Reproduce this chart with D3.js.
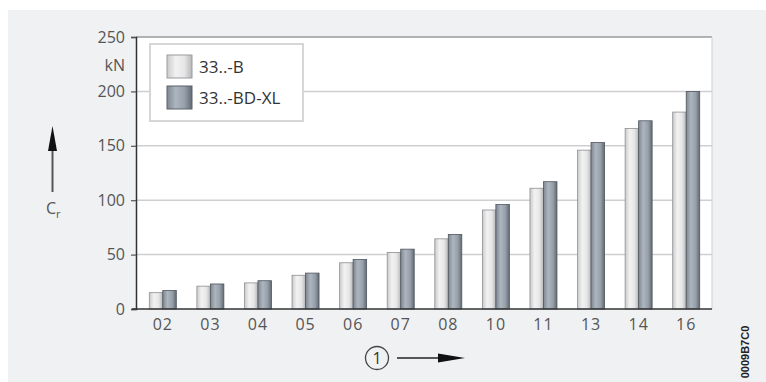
<!DOCTYPE html>
<html>
<head>
<meta charset="utf-8">
<script src="https://cdn.jsdelivr.net/npm/d3@7"></script>
<style>
  html, body { margin: 0; padding: 0; background: #ffffff; }
  svg { display: block; }
</style>
</head>
<body>
<script>
const categories = ["02", "03", "04", "05", "06", "07", "08", "10", "11", "13", "14", "16"];
const seriesNames = ["33..-B", "33..-BD-XL"];
const valuesB    = [15, 21, 24, 31, 42.5, 52, 64.5, 91, 111, 146, 166, 181];
const valuesBDXL = [17, 23, 26, 33, 45.5, 55, 68.5, 96, 117, 153, 173, 200];
const yTicks = [0, 50, 100, 150, 200, 250];
const yUnit = "kN";
const codeLabel = "0009B7C0";

const W = 766, H = 382;
const svg = d3.select("body").append("svg").attr("width", W).attr("height", H);

const defs = svg.append("defs");
function grad(id, stops) {
  const g = defs.append("linearGradient").attr("id", id)
    .attr("x1", "0%").attr("x2", "100%").attr("y1", "0%").attr("y2", "0%");
  stops.forEach(s => g.append("stop").attr("offset", s[0]).attr("stop-color", s[1]));
}
grad("gLight", [["0%", "#c9cacc"], ["35%", "#f2f2f2"], ["70%", "#e6e6e7"], ["100%", "#b5b6b8"]]);
grad("gDark",  [["0%", "#7f8892"], ["35%", "#adb5bf"], ["70%", "#97a0aa"], ["100%", "#626a74"]]);

// background panel
svg.append("rect").attr("x", 8).attr("y", 10).attr("width", W - 8).attr("height", H - 10)
  .attr("fill", "#f0f1f3");

const plot = { left: 136, right: 712, top: 37, bottom: 309 };

const y = d3.scaleLinear().domain([0, 250]).range([plot.bottom, plot.top]);
const x = d3.scaleBand().domain(categories).range([139, 710]).paddingInner(0).paddingOuter(0);
const sub = d3.scaleBand().domain(seriesNames).range([-13.5, 13.5]);

// plot area
svg.append("rect").attr("x", plot.left).attr("y", plot.top)
  .attr("width", plot.right - plot.left).attr("height", plot.bottom - plot.top)
  .attr("fill", "#ffffff");

// grid lines
svg.append("g").selectAll("line").data(yTicks.filter(d => d > 0 && d < 250)).join("line")
  .attr("x1", plot.left).attr("x2", plot.right)
  .attr("y1", d => y(d)).attr("y2", d => y(d))
  .attr("stroke", "#cfcfcf").attr("stroke-width", 1.5);
// top border and right border
svg.append("line").attr("x1", plot.left).attr("x2", plot.right)
  .attr("y1", y(250)).attr("y2", y(250)).attr("stroke", "#9a9a9a").attr("stroke-width", 1.5);
svg.append("line").attr("x1", plot.right).attr("x2", plot.right)
  .attr("y1", plot.top).attr("y2", plot.bottom).attr("stroke", "#d0d0d0").attr("stroke-width", 1);

// Bars
const data = categories.map((c, i) => ({ c, vals: [valuesB[i], valuesBDXL[i]] }));
const groups = svg.append("g").selectAll("g").data(data).join("g")
  .attr("transform", d => `translate(${x(d.c) + x.bandwidth() / 2},0)`);
groups.selectAll("rect").data(d => d.vals.map((v, k) => ({ k, v }))).join("rect")
  .attr("x", d => sub(seriesNames[d.k]))
  .attr("width", sub.bandwidth())
  .attr("y", d => y(d.v))
  .attr("height", d => y(0) - y(d.v))
  .attr("fill", d => d.k === 0 ? "url(#gLight)" : "url(#gDark)")
  .attr("stroke", d => d.k === 0 ? "#8e8f91" : "#4f565e")
  .attr("stroke-width", 0.8);

// Y axis
const yAxis = d3.axisLeft(y).tickValues(yTicks).tickSize(5).tickPadding(6);
const ya = svg.append("g").attr("transform", `translate(${plot.left},0)`).call(yAxis);
ya.select(".domain").attr("stroke", "#333").attr("stroke-width", 1.5);
ya.selectAll(".tick line").attr("stroke", "#555").attr("stroke-width", 1.2);
ya.selectAll(".tick text").attr("font-family", "'Open Sans', sans-serif")
  .attr("font-size", 16).attr("fill", "#555");

svg.append("text").attr("x", 125).attr("y", y(250) + 34).attr("text-anchor", "end")
  .attr("font-family", "'Open Sans', sans-serif").attr("font-size", 16).attr("fill", "#555")
  .text(yUnit);

// X axis
const xAxis = d3.axisBottom(x).tickSize(0).tickPadding(10);
const xa = svg.append("g").attr("transform", `translate(0,${plot.bottom})`).call(xAxis);
xa.select(".domain").remove();
svg.append("line").attr("x1", plot.left - 4).attr("x2", plot.right)
  .attr("y1", plot.bottom).attr("y2", plot.bottom).attr("stroke", "#333").attr("stroke-width", 1.5);
xa.selectAll(".tick text").attr("font-family", "'Open Sans', sans-serif")
  .attr("font-size", 16).attr("fill", "#555").attr("letter-spacing", "1px");

// Legend
const lg = svg.append("g");
lg.append("rect").attr("x", 150).attr("y", 44).attr("width", 153).attr("height", 77)
  .attr("fill", "#ffffff").attr("stroke", "#d6d6d6").attr("stroke-width", 2);
seriesNames.forEach((name, k) => {
  const yy = 55 + k * 31;
  lg.append("rect").attr("x", 167).attr("y", yy).attr("width", 25).attr("height", 23)
    .attr("fill", k === 0 ? "url(#gLight)" : "url(#gDark)")
    .attr("stroke", k === 0 ? "#9a9b9d" : "#5a626a").attr("stroke-width", 1);
  lg.append("text").attr("x", 199).attr("y", yy + 18)
    .attr("font-family", "'Open Sans', sans-serif").attr("font-size", 17).attr("fill", "#333")
    .text(name);
});

// Vertical arrow with C_r
svg.append("line").attr("x1", 52.5).attr("x2", 52.5).attr("y1", 192).attr("y2", 148)
  .attr("stroke", "#555").attr("stroke-width", 2);
svg.append("path").attr("d", "M52.5,126 L48,151 L57,151 Z").attr("fill", "#111");
const cr = svg.append("text").attr("x", 46).attr("y", 214)
  .attr("font-family", "'Open Sans', sans-serif").attr("font-size", 16).attr("fill", "#555");
cr.append("tspan").text("C");
cr.append("tspan").attr("font-size", 11).attr("dy", 4).text("r");

// Circled 1 and arrow
svg.append("circle").attr("cx", 377).attr("cy", 358).attr("r", 11.5)
  .attr("fill", "none").attr("stroke", "#444").attr("stroke-width", 1.3);
svg.append("text").attr("x", 377).attr("y", 364).attr("text-anchor", "middle")
  .attr("font-family", "'Open Sans', sans-serif").attr("font-size", 16).attr("fill", "#333")
  .text("1");
svg.append("line").attr("x1", 397).attr("x2", 442).attr("y1", 358).attr("y2", 358)
  .attr("stroke", "#222").attr("stroke-width", 1.5);
svg.append("path").attr("d", "M465,358 L438,353.5 L438,362.5 Z").attr("fill", "#111");

// Code label
svg.append("text").attr("transform", "translate(749,352) rotate(-90)")
  .attr("text-anchor", "middle").attr("font-family", "'Liberation Sans', Arial, sans-serif")
  .attr("font-size", 11).attr("font-weight", "bold").attr("fill", "#222")
  .text(codeLabel);
</script>
</body>
</html>
